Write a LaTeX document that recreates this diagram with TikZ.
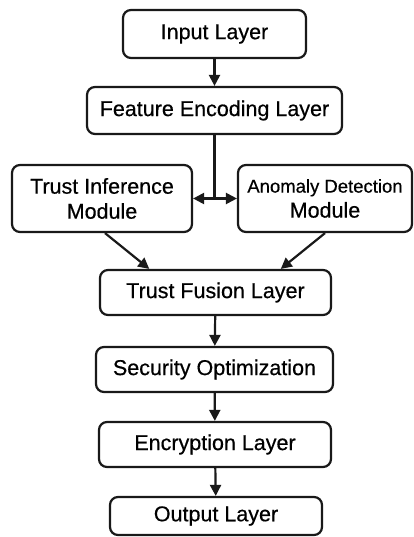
\documentclass[tikz,border=0pt]{standalone}
\usepackage{fontspec}
\setmainfont{Liberation Sans}[FakeBold=0.5]
\usetikzlibrary{arrows.meta,calc}
\begin{document}
\begin{tikzpicture}[x=1pt,y=-1pt,
  box/.style={draw=black!90,line width=2.2pt,rounded corners=8pt,align=center,
    inner sep=0pt,font=\fontsize{21.5}{25}\selectfont},
  wire/.style={line width=2.2pt,draw=black!90},
  link/.style={wire,-{Triangle[length=11pt,width=11pt]}},
  both/.style={wire,{Triangle[length=11pt,width=11pt]}-{Triangle[length=11pt,width=11pt]}}]
\useasboundingbox (0,0) rectangle (414,537);
\fill[white] (0,0) rectangle (414,537);

% layers
\node[box,minimum width=183pt,minimum height=48pt] (in) at (214.5,34) {Input Layer};
\node[box,minimum width=255pt,minimum height=47pt] (fe) at (214.5,110.5) {Feature Encoding Layer};
\node[box,minimum width=180pt,minimum height=67pt] (ti) at (102,198.5) {Trust Inference\\Module};
\node[box,minimum width=174pt,minimum height=67pt] (ad) at (325,198.5)
  {{\fontsize{18.5}{25}\selectfont Anomaly Detection}\\Module};
\node[box,minimum width=231pt,minimum height=45pt] (tf) at (215.5,292.5) {Trust Fusion Layer};
\node[box,minimum width=237pt,minimum height=45pt] (so) at (214.5,369.5) {Security Optimization};
\node[box,minimum width=232pt,minimum height=45pt] (en) at (215,444.5) {Encryption Layer};
\node[box,minimum width=212pt,minimum height=38pt] (out) at (216,516) {Output Layer};

% connectors
\coordinate (split) at (fe.south |- ti.east);
\draw[link] (in) -- (fe);
\draw[wire] (fe.south) -- (split);
\draw[both] (ti.east) -- (ad.west);
\draw[link] ([xshift=3pt]ti.south) -- ($(tf.north west)!0.216!(tf.north east)$);
\draw[link] (ad.south) -- ($(tf.north west)!0.78!(tf.north east)$);
\draw[link] (tf) -- (so);
\draw[link] (so) -- (en);
\draw[link] (en) -- (out);
\end{tikzpicture}
\end{document}
